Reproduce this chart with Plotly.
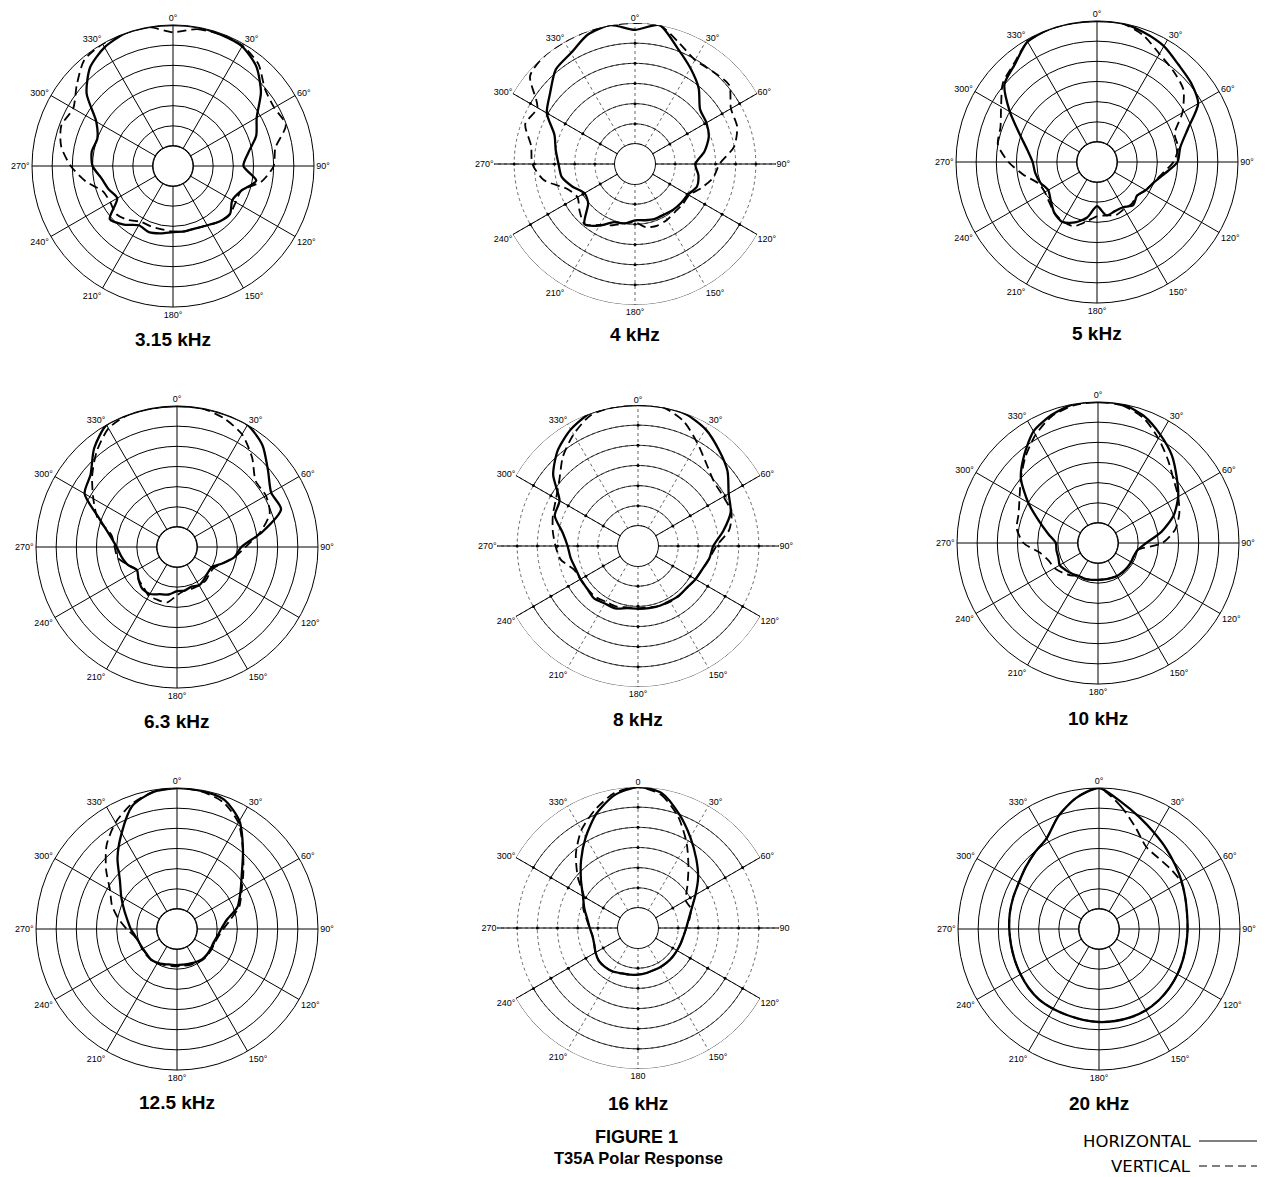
import plotly.graph_objects as go

W, H = 1265, 1177      # browser window
PAGE_PAD = 8           # default body margin of the written html page
FW, FH = W - PAGE_PAD, H - PAGE_PAD

# ---------------- data (dB relative, read at 10 degree steps) ----------------
THETA = list(range(0, 360, 10))
FREQ_LABELS = ["3.15 kHz", "4 kHz", "5 kHz", "6.3 kHz", "8 kHz", "10 kHz",
               "12.5 kHz", "16 kHz", "20 kHz"]
ANGLE_TICKS = list(range(0, 360, 30))
RING_DB = [-25, -20, -15, -10, -5, 0]

H_3k15 = [0, 0, -0.3, -0.7, -2.8, -6.5, -11, -13, -16, -17.5, -14, -17, -18, -16.5, -17, -18, -18.5, -18.5,
          -18.6, -18, -17.5, -18, -16, -14.5, -19, -18, -17, -15, -14.5, -15, -13, -7, -3, -1, 0, 0]
V_3k15 = [-1.8, -0.5, -0.3, -0.5, -2, -5.2, -6, -5.2, -9.2, -10, -12.7, -17, -17, -16.5, -17, -18, -18.5, -18.5,
          -18.7, -19, -19, -19, -17.5, -16.5, -17, -16.5, -13, -9.6, -6.8, -5.5, -6.4, -3.8, -0.7, 0, 0, 0]
H_4k = [-1.7, 0, -4.3, -7.5, -10.4, -13.9, -14.5, -15.5, -17.5, -20, -19, -18.6, -19.8, -20, -20.2, -20.5, -20.5, -20.8,
        -21, -20, -19.6, -17.3, -15.5, -19.8, -20.5, -18.5, -16.5, -16, -15, -13.7, -9.7, -7.5, -4.4, -3.2, -0.8, 0]
V_4k = [0, 0, -3, -5.2, -5, -4.5, -7.5, -8, -10, -14, -15.3, -17.5, -19.5, -19.5, -19.5, -19, -18.7, -19,
        -20.5, -20, -18.8, -17.5, -15.5, -17, -18.5, -17, -12, -9.5, -8.8, -6, -7, -1, 0, 0, 0, 0]
H_5k = [0, 0, -0.8, -1.8, -3.5, -4.5, -6, -11, -14, -15, -18, -20, -21, -22, -21, -22, -22, -21.5,
        -24, -21, -19, -17.8, -18.5, -20, -21, -20, -19.4, -19, -17.4, -14.5, -10, -5, -3.3, -0.5, 0, 0]
V_5k = [0, 0, -1.5, -4, -5.5, -7, -10.5, -14.5, -14.5, -16, -18.5, -20, -21, -22, -21.5, -21.5, -21, -21.5,
        -21.5, -20, -18, -18, -18.5, -19.5, -20, -19.5, -16.5, -13, -10, -9.5, -7.5, -4.5, -3, -0.5, 0, 0]
H_6k3 = [0, 0, 0, 0, -2, -5.5, -8, -7.5, -13.5, -19, -20.5, -23, -25, -25, -24.5, -24, -24.5, -24,
         -24, -23, -22.5, -21.5, -21.5, -22.5, -23.5, -22, -21, -20, -18, -14.5, -8.5, -7, -3, 0, 0, 0]
V_6k3 = [0, 0, -1, -2.7, -6, -9.5, -9.5, -10.5, -14, -18, -20.5, -23, -24.5, -24.5, -24, -24, -24, -24,
         -23, -21, -21, -21, -22, -22.5, -23.5, -22, -20, -19.5, -18.5, -14, -11, -7.5, -4, -1, 0, 0]
H_8k = [0, 0, -0.2, -1.5, -3.8, -6, -9, -10.5, -13.5, -16.3, -17, -18, -18.5, -19, -19, -19.2, -19.2, -19.3,
        -19.4, -19.3, -18.5, -18.5, -18, -18.5, -18.5, -18.5, -18, -17.5, -16, -13, -12.5, -7.5, -4, -1.6, 0, 0]
V_8k = [0, 0, -2, -5.5, -8.5, -10.3, -10.5, -10.3, -12, -15.5, -17, -18, -18.5, -19, -19, -19, -19.2, -19.5,
        -19.5, -19.5, -19, -19, -18.5, -18.5, -18.5, -18, -15.5, -14.5, -13.5, -12.5, -11.5, -9.5, -6, -3, -0.5, 0]
H_10k = [0, 0, -1.5, -4, -6.5, -9.5, -12, -15, -19, -23, -25, -25.5, -25.5, -25.5, -25.5, -25.5, -25.7, -25.8,
         -25.8, -25.7, -25.5, -25.5, -25, -24.5, -24, -24.5, -24.5, -24.5, -22.5, -19.5, -15, -10, -6.5, -3, -1.2, 0]
V_10k = [0, -0.3, -2, -5, -8, -10.5, -12, -13.5, -15.5, -19, -25, -25.5, -25.5, -25.5, -25.5, -25.5, -25.7, -25.8,
         -25.8, -25.7, -25.5, -25.5, -24.5, -23.5, -22.5, -22, -20.5, -16.5, -14.5, -14, -12.5, -10, -7, -4, -1.5, -0.3]
H_12k5 = [0, -0.2, -0.8, -4, -9.5, -14, -16.8, -19, -22.5, -24, -24.8, -25.3, -25.3, -25.2, -25.2, -25.5, -25.8, -26,
          -26, -26, -25.7, -25.3, -25, -25.2, -25.2, -25, -24.5, -23.5, -22.5, -21, -19, -16.5, -12, -7.5, -2.5, -0.5]
V_12k5 = [0, -0.3, -1.5, -4.5, -9.5, -13.5, -16.5, -18.5, -21.5, -23.5, -24.5, -25, -25, -25, -25, -25.2, -25.5, -25.7,
          -25.7, -25.7, -25.5, -25.2, -25, -25, -25, -25, -24.3, -22.5, -20.2, -17.8, -15.8, -12, -7.8, -4.5, -2, -0.5]
H_16k = [0, -1, -5, -9, -12.5, -15.5, -18.5, -20.8, -22.2, -23, -23.5, -23.7, -23.8, -23.8, -23.8, -23.8, -23.8, -23.6,
         -23.4, -23.2, -23, -22.5, -22.3, -22.3, -22.8, -23.4, -23.5, -23, -22.2, -20.8, -19.2, -16.5, -13, -9, -4.8, -1.5]
V_16k = [0, -1.5, -5.7, -10.8, -15.5, -19, -21.3, -21, -22, -23, -23.5, -23.7, -23.8, -23.8, -23.8, -23.8, -23.8, -23.6,
         -23.4, -23.2, -23, -22.5, -22.3, -22.3, -22.8, -23.4, -23.5, -23, -22, -20.5, -19.5, -15.5, -11, -6.9, -3.8, -1]
H_20k = [0, -3, -5.5, -7.5, -9, -10.3, -11.3, -12.2, -12.8, -13, -13, -12.8, -12.5, -12.2, -11.9, -11.7, -11.7, -11.8,
         -11.9, -12.1, -12.2, -12.1, -12, -12.2, -12.5, -12.7, -12.8, -12.7, -12.5, -12.3, -12, -11.2, -10.2, -9, -5.3, -2]
V_20k = [0, -4, -8.3, -11.5, -12, -11.8, -11.5, -12.2, -12.8, -13, -13, -12.8, -12.5, -12.2, -11.9, -11.7, -11.7, -11.8,
         -11.9, -12.1, -12.2, -12.1, -12, -12.2, -12.5, -12.7, -12.8, -12.7, -12.5, -12.3, -12, -11.2, -10.2, -9, -5.3, -2]

HORIZ = [H_3k15, H_4k, H_5k, H_6k3, H_8k, H_10k, H_12k5, H_16k, H_20k]
VERT = [V_3k15, V_4k, V_5k, V_6k3, V_8k, V_10k, V_12k5, V_16k, V_20k]

# ---------------- layout geometry (window pixels) ----------------
CENTERS = [(173, 166), (635, 164), (1097, 162),
           (177, 547), (638, 546), (1098, 543),
           (177, 929), (638, 928), (1099, 929)]
R = 141
HOLE_PX = 20
TITLE_Y = [339, 335, 333, 721, 719, 718, 1102, 1103, 1103]
SPECIAL = {1, 4, 7}  # plots drawn on the alternate (dotted) chart paper
FONT = "Liberation Sans, Arial, sans-serif"


def px(x):
    return (x - PAGE_PAD) / FW


def py(y):
    return 1 - (y - PAGE_PAD) / FH


def closed(seq):
    return list(seq) + [seq[0]]


fig = go.Figure()
layout = dict(width=FW, height=FH, margin=dict(l=0, r=0, t=0, b=0),
              paper_bgcolor="white", plot_bgcolor="white", showlegend=False)

annotations = []
for i, (cx, cy) in enumerate(CENTERS):
    name = "polar" if i == 0 else f"polar{i + 1}"
    special = i in SPECIAL
    if i == 7:
        ticktext = [str(a) if a in (0, 90, 180, 270) else f"{a}°" for a in ANGLE_TICKS]
    else:
        ticktext = [f"{a}°" for a in ANGLE_TICKS]
    layout[name] = dict(
        domain=dict(x=[px(cx - R), px(cx + R)], y=[py(cy + R), py(cy - R)]),
        hole=HOLE_PX / R,
        bgcolor="white",
        radialaxis=dict(range=[-30, 0], tickmode="array",
                        tickvals=RING_DB if special else RING_DB[:-1],
                        showticklabels=False, ticks="", showline=False,
                        gridcolor="#666" if special else "black",
                        gridwidth=0.8, griddash="dot" if special else "solid"),
        angularaxis=dict(rotation=90, direction="clockwise", tickmode="array",
                         tickvals=ANGLE_TICKS, ticktext=ticktext, ticks="",
                         showline=not special, linecolor="black", linewidth=1,
                         gridcolor="#666" if special else "black", gridwidth=0.8,
                         griddash="dot" if special else "solid",
                         tickfont=dict(size=9, family=FONT, color="black")),
    )

    if special:
        # solid arcs of the rings in the front and rear sectors
        arc_r, arc_t = [], []
        for rdb in RING_DB:
            for lo, hi in ((-60, 60), (120, 240)):
                ts = list(range(lo, hi + 1, 2))
                arc_t += ts + [None]
                arc_r += [rdb] * len(ts) + [None]
        fig.add_trace(go.Scatterpolar(r=arc_r, theta=arc_t, mode="lines", subplot=name,
                                      line=dict(color="black", width=0.8), hoverinfo="skip",
                                      cliponaxis=False))
        # solid radial lines with tick marks
        rad_r, rad_t, mk_r, mk_t = [], [], [], []
        for a in (60, 90, 120, 240, 270, 300):
            rad_r += [-30, 0, None]
            rad_t += [a, a, None]
        for a in (0, 60, 90, 120, 180, 240, 270, 300):
            for rdb in RING_DB[:-1]:
                mk_r.append(rdb)
                mk_t.append(a)
        fig.add_trace(go.Scatterpolar(r=rad_r, theta=rad_t, mode="lines", subplot=name,
                                      line=dict(color="black", width=1), hoverinfo="skip"))
        fig.add_trace(go.Scatterpolar(r=mk_r, theta=mk_t, mode="markers", subplot=name,
                                      marker=dict(color="black", size=3), hoverinfo="skip"))

    # inner hole circle
    ring_t = list(range(0, 361, 3))
    fig.add_trace(go.Scatterpolar(r=[-30] * len(ring_t), theta=ring_t, mode="lines", subplot=name,
                                  line=dict(color="black", width=1.8), hoverinfo="skip",
                                  cliponaxis=False))

    # measured curves
    fig.add_trace(go.Scatterpolar(r=closed(VERT[i]), theta=closed(THETA), mode="lines", subplot=name,
                                  name="VERTICAL",
                                  line=dict(color="black", width=1.8, dash="9px,5px",
                                            shape="spline", smoothing=0.7)))
    fig.add_trace(go.Scatterpolar(r=closed(HORIZ[i]), theta=closed(THETA), mode="lines", subplot=name,
                                  name="HORIZONTAL",
                                  line=dict(color="black", width=2.3, shape="spline", smoothing=0.7)))

    annotations.append(dict(x=px(cx), y=py(TITLE_Y[i]), xref="paper", yref="paper",
                            text=f"<b>{FREQ_LABELS[i]}</b>", showarrow=False,
                            font=dict(size=19, family=FONT, color="black"),
                            xanchor="center", yanchor="middle"))

annotations.append(dict(x=px(637), y=py(1137), xref="paper", yref="paper",
                        text="<b>FIGURE 1</b>", showarrow=False,
                        font=dict(size=18, family=FONT, color="black"), xanchor="center", yanchor="middle"))
annotations.append(dict(x=px(638), y=py(1158), xref="paper", yref="paper",
                        text="<b>T35A Polar Response</b>", showarrow=False,
                        font=dict(size=16.5, family=FONT, color="black"), xanchor="center", yanchor="middle"))
annotations.append(dict(x=px(1193), y=py(1141), xref="paper", yref="paper", text="HORIZONTAL",
                        showarrow=False, font=dict(size=16.5, family="DejaVu Sans, sans-serif", color="black"),
                        xanchor="right", yanchor="middle"))
annotations.append(dict(x=px(1193), y=py(1166), xref="paper", yref="paper", text="VERTICAL",
                        showarrow=False, font=dict(size=16.5, family="DejaVu Sans, sans-serif", color="black"),
                        xanchor="right", yanchor="middle"))

shapes = [
    dict(type="line", xref="paper", yref="paper", x0=px(1199), x1=px(1262),
         y0=py(1141), y1=py(1141), line=dict(color="black", width=1.2)),
    dict(type="line", xref="paper", yref="paper", x0=px(1199), x1=px(1262),
         y0=py(1166), y1=py(1166), line=dict(color="black", width=1.2, dash="8px,5px")),
]

layout["annotations"] = annotations
layout["shapes"] = shapes
fig.update_layout(**layout)
fig.write_html("out.html")
